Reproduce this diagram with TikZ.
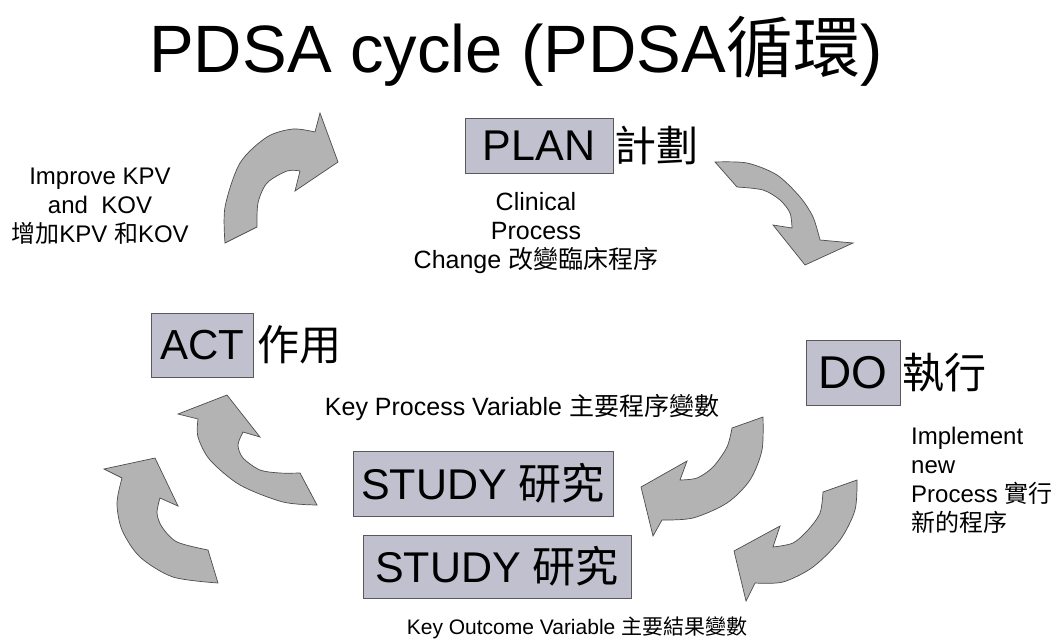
\documentclass[tikz,border=0pt]{standalone}
\usepackage{fontspec}
\setmainfont{Liberation Sans}
\newfontfamily\cjk{Noto Sans CJK TC}
\usetikzlibrary{positioning}
\definecolor{boxfill}{RGB}{192,192,206}
\definecolor{arrowgray}{RGB}{179,179,179}
\newcommand{\zh}[1]{{\cjk #1}}
\tikzset{
  box/.style={draw=black!65, fill=boxfill, inner sep=0pt},
  bigtext/.style={font=\fontsize{42}{50}\selectfont},
  notetext/.style={font=\fontsize{24}{29}\selectfont, align=center, inner sep=0pt},
  curved/.style={fill=arrowgray, draw=black!70, line width=0.7pt},
}

\begin{document}
\begin{tikzpicture}[x=1pt, y=-1pt]
\useasboundingbox (0,0) rectangle (1059,642);

\node[anchor=base, font=\fontsize{67}{80}\selectfont, inner sep=0pt] (title) at (516,73)
    {PDSA cycle (PDSA\zh{循環})};

\node[box, bigtext, font=\fontsize{43}{50}\selectfont, minimum width=148, minimum height=55] (plan) at (539,145.5) {PLAN};
\node[bigtext, inner sep=0pt, right=1pt of plan] (plancn) {\zh{計劃}};
\node[notetext, font=\fontsize{25}{29}\selectfont] (plantxt) at (536,233)
    {Clinical\\Process\\Change \zh{改變臨床程序}};

\node[box, bigtext, font=\fontsize{46}{50}\selectfont, minimum width=94, minimum height=65] (do) at (853,372.5) {DO};
\node[bigtext, inner sep=0pt, right=2pt of do] (docn) {\zh{執行}};
\node[notetext, align=left, anchor=west] (dotxt) at (911,480.5)
    {Implement\\new\\Process \zh{實行}\\\zh{新的程序}};

\node[notetext, font=\fontsize{25}{29}\selectfont] (kpv) at (522,408) {Key Process Variable \zh{主要程序變數}};
\node[box, bigtext, font=\fontsize{43}{50}\selectfont, minimum width=260, minimum height=65] (study) at (483,483.5) {STUDY \zh{研究}};
\node[box, bigtext, font=\fontsize{43}{50}\selectfont, minimum width=268, minimum height=63] (study2) at (497,566.5) {STUDY \zh{研究}};
\node[notetext, font=\fontsize{21}{25}\selectfont] (kov) at (577,628)
    {Key Outcome Variable \zh{主要結果變數}};

\node[box, bigtext, minimum width=102, minimum height=64] (act) at (202,345) {ACT};
\node[bigtext, inner sep=0pt, right=4pt of act] (actcn) {\zh{作用}};
\node[notetext] (acttxt) at (100,206) {Improve KPV\\and\ \ KOV\\\zh{增加}KPV \zh{和}KOV};

\filldraw[curved] plot[smooth] coordinates {(225,243) (225,207) (240,163) (267,137) (293,129) (315,132)}
    -- (320,113) -- (338,162) -- (295,191) -- (300,171)
    -- plot[smooth] coordinates {(300,171) (287,171) (267,183) (258,203) (257,227)} -- cycle;
\filldraw[curved] plot[smooth] coordinates {(715,162) (747,163) (777,175) (800,197) (813,217) (820,240)}
    -- (853,243) -- (805,265) -- (773,225) -- (792,228)
    -- plot[smooth] coordinates {(792,228) (790,213) (780,200) (763,190) (737,187)} -- cycle;
\filldraw[curved] plot[smooth] coordinates {(763,417) (762,450) (750,480) (727,503) (693,518) (662,520)}
    -- (653,536) -- (641,487) -- (687,461) -- (680,480)
    -- plot[smooth] coordinates {(680,480) (697,478) (713,467) (727,447) (732,428)} -- cycle;
\filldraw[curved] plot[smooth] coordinates {(857,480) (855,510) (840,540) (813,567) (783,582) (755,583)}
    -- (746,601) -- (734,551) -- (780,526) -- (773,547)
    -- plot[smooth] coordinates {(773,547) (793,543) (808,530) (820,513) (823,492)} -- cycle;
\filldraw[curved] plot[smooth] coordinates {(317,505) (283,502) (240,485) (210,460) (198,437) (198,419)}
    -- (178,414) -- (227,395) -- (260,437) -- (243,432)
    -- plot[smooth] coordinates {(243,432) (238,445) (243,458) (260,470) (280,473) (300,473)} -- cycle;
\filldraw[curved] plot[smooth] coordinates {(218,583) (173,577) (140,557) (122,530) (117,503) (122,478)}
    -- (104,469) -- (155,458) -- (178,506) -- (160,498)
    -- plot[smooth] coordinates {(160,498) (157,513) (162,527) (177,542) (208,550)} -- cycle;
\end{tikzpicture}
\end{document}
